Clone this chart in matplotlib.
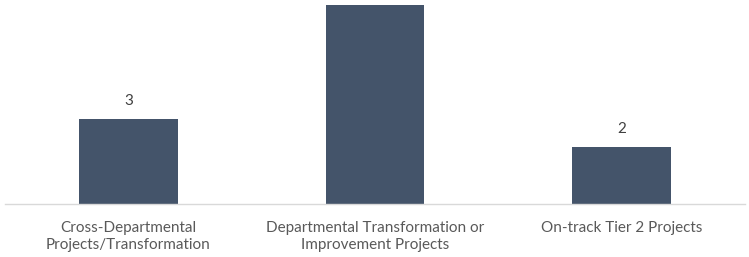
import matplotlib
matplotlib.use("Agg")
import matplotlib.pyplot as plt

categories = ["Cross-Departmental\nProjects/Transformation",
              "Departmental Transformation or\nImprovement Projects",
              "On-track Tier 2 Projects"]
values = [3, 7, 2]
# the label of the tallest bar lies above the visible picture in the reference
show_label = [True, False, True]

plt.rcParams['font.family'] = ['Lato', 'DejaVu Sans']

fig = plt.figure(figsize=(7.49, 2.57), dpi=100)
ax = fig.add_axes([5/749, (257-204)/257, 740/749, 199/257])
x = range(len(categories))
bars = ax.bar(x, values, width=0.4, color="#44546A", zorder=2)
ax.set_xlim(-0.5, 2.5)
ax.set_ylim(0, 7)
for s in ["top", "right", "left"]:
    ax.spines[s].set_visible(False)
ax.spines["bottom"].set_color("#D9D9D9")
ax.spines["bottom"].set_linewidth(1.0)
ax.set_yticks([])
ax.set_xticks(list(x))
ax.set_xticklabels(categories, fontsize=11, color="#595959", linespacing=1.3)
ax.tick_params(axis="x", length=0, pad=12)
for b, v, show in zip(bars, values, show_label):
    if not show:
        continue
    ax.annotate(str(v), (b.get_x() + b.get_width()/2, v), xytext=(0, 8),
                textcoords="offset points", ha="center", va="bottom",
                fontsize=11, color="#404040", annotation_clip=False)
fig.savefig("out.png", dpi=100)
